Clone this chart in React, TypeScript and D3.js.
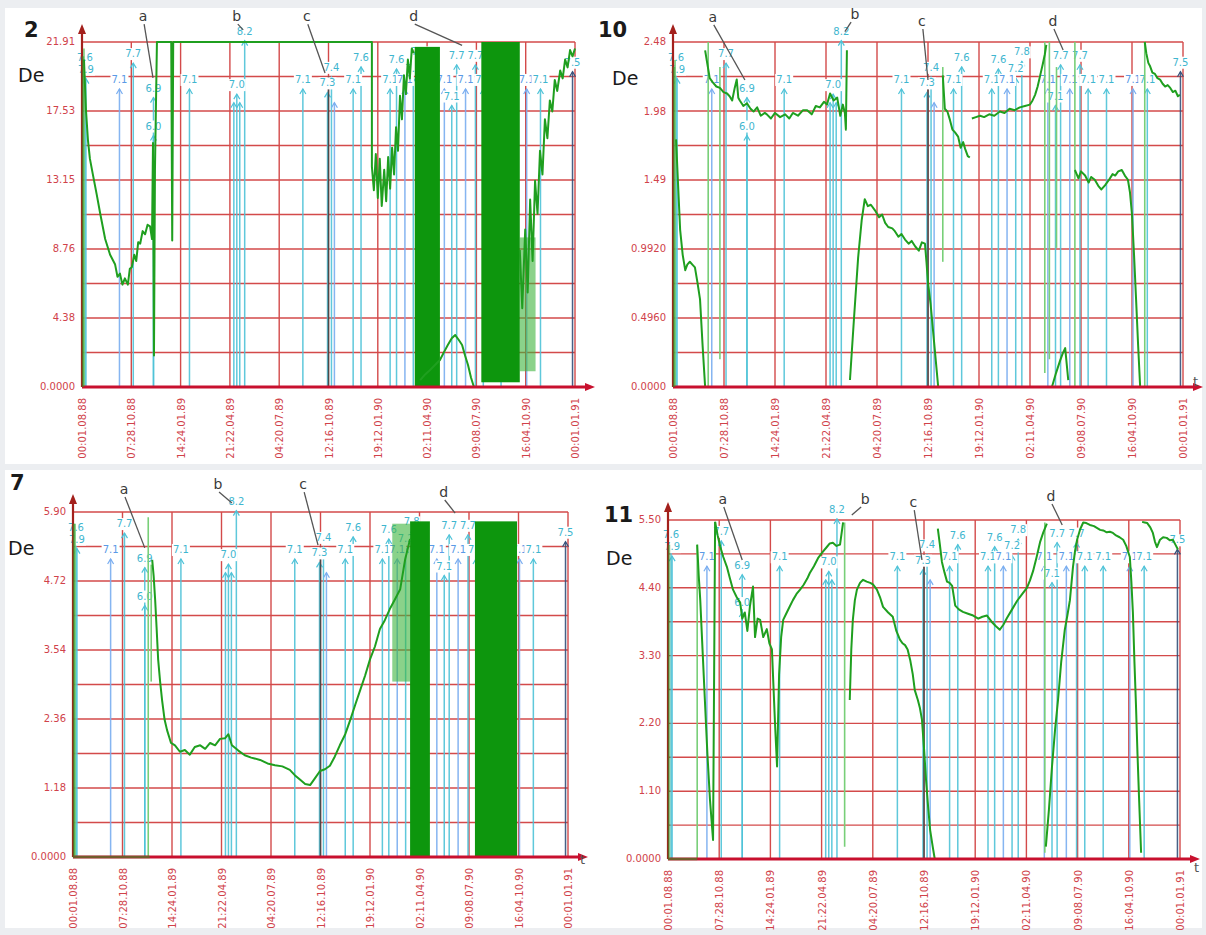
import React from "react";
import * as d3 from "d3";

// ---------------- shared axis / event data ----------------
const TIME_LABELS = [
  "00:01.08.88", "07:28.10.88", "14:24.01.89", "21:22.04.89", "04:20.07.89",
  "12:16.10.89", "19:12.01.90", "02:11.04.90", "09:08.07.90", "16:04.10.90", "00:01.01.91",
];

// events (earthquake markers): time (tick units), magnitude label, label level (fraction from top), kind
const EV_T = [0.06, 0.08, 0.76, 1.04, 1.45, 1.45, 2.18, 3.08, 3.14, 3.2, 3.3, 4.48, 4.98, 5.06, 5.12, 5.5, 5.66, 6.25, 6.38, 6.55, 6.72, 6.84, 7.35, 7.5, 7.6, 7.78, 7.98, 8.14, 8.5, 9.02, 9.3, 9.95];
const EV_MAG = ["7.6", "7.9", "7.1", "7.7", "6.9", "6.0", "7.1", "", "7.0", "", "8.2", "7.1", "7.3", "7.4", "", "7.1", "7.6", "7.1", "7.6", "7.1", "7.2", "7.8", "7.1", "7.1", "7.7", "7.1", "7.7", "7.1", "7.1", "7.1", "7.1", "7.5"];
const EV_LEVEL = [0.045, 0.08, 0.11, 0.035, 0.135, 0.245, 0.11, 0.15, 0.125, 0.15, -0.03, 0.11, 0.12, 0.075, 0.15, 0.11, 0.046, 0.11, 0.052, 0.11, 0.078, 0.03, 0.11, 0.158, 0.04, 0.11, 0.04, 0.11, 0.11, 0.11, 0.11, 0.06];
const EV_KIND = ["c", "c", "b", "c", "c", "c", "c", "c", "c", "c", "c", "c", "c", "c", "b", "c", "c", "c", "c", "b", "c", "c", "b", "c", "c", "b", "c", "c", "c", "b", "c", "d"];

// ---------------- panel "2" ----------------
const P2_TICKS = [0, 4.38, 8.76, 13.15, 17.53, 21.91];
const P2_LABELS = ["0.0000", "4.38", "8.76", "13.15", "17.53", "21.91"];
const P2_SEGS: [number, number][][] = [
  [[0.04, 20.8], [0.08, 17.6], [0.12, 15.7], [0.16, 14.5], [0.22, 13.5], [0.3, 12.2], [0.37, 11.0], [0.47, 9.4], [0.57, 8.4], [0.67, 7.8], [0.72, 7.0], [0.77, 7.2], [0.82, 6.5], [0.87, 6.9], [0.93, 6.5], [0.97, 7.5], [1.01, 7.6], [1.06, 8.4], [1.1, 8.0], [1.14, 9.2], [1.18, 9.1], [1.23, 9.9], [1.28, 9.7], [1.33, 10.3], [1.38, 10.2], [1.42, 9.4], [1.44, 15.5], [1.46, 2.0], [1.48, 13.8], [1.52, 21.91], [1.81, 21.91], [1.83, 9.3], [1.85, 21.91], [5.88, 21.91], [5.88, 14.0], [5.92, 12.5], [5.96, 14.8], [6.0, 12.0], [6.04, 14.5], [6.08, 11.5], [6.13, 13.8], [6.17, 11.8], [6.21, 14.6], [6.25, 12.6], [6.29, 15.2], [6.33, 13.5], [6.37, 16.5], [6.41, 15.0], [6.45, 18.5], [6.49, 17.0], [6.53, 19.8], [6.57, 18.6], [6.61, 20.8], [6.65, 19.6], [6.69, 21.5], [6.73, 21.2]],
  [[6.86, 0.44], [6.96, 0.8], [7.06, 1.08], [7.16, 1.4], [7.26, 1.71], [7.34, 2.2], [7.42, 2.67], [7.5, 3.1], [7.57, 3.3], [7.64, 3.0], [7.71, 2.67], [7.77, 2.0], [7.83, 1.4], [7.89, 0.6], [7.95, 0.0]],
  [[8.88, 8.7], [8.93, 5.0], [8.99, 10.0], [9.04, 6.0], [9.09, 11.9], [9.14, 8.0], [9.19, 13.1], [9.24, 11.0], [9.29, 15.0], [9.34, 13.5], [9.39, 17.0], [9.44, 15.8], [9.49, 18.2], [9.54, 17.5], [9.59, 19.5], [9.64, 18.8], [9.7, 20.1], [9.75, 19.6], [9.8, 20.8], [9.85, 20.3], [9.9, 21.4], [9.95, 21.0], [10.0, 21.5]],
];
const P2_BANDS = [[6.75, 7.26, 0, 21.6], [8.1, 8.88, 0.3, 21.91]];
const P2_LIGHT = [[8.88, 9.2, 1.0, 9.5]];
const P2_SPIKES = [[0.04, 21.5, 0]];
const P2_BASE: [number, number][][] = [[[0.02, 0], [0.02, 21.0]]];

// ---------------- panel "10" ----------------
const P10_TICKS = [0, 0.496, 0.992, 1.49, 1.98, 2.48];
const P10_LABELS = ["0.0000", "0.4960", "0.9920", "1.49", "1.98", "2.48"];
const P10_SEGS: [number, number][][] = [
  [[0.06, 1.78], [0.1, 1.45], [0.14, 1.13], [0.19, 0.95], [0.24, 0.84], [0.28, 0.88], [0.33, 0.9], [0.38, 0.88], [0.43, 0.86], [0.48, 0.75], [0.53, 0.63], [0.58, 0.3], [0.63, 0.0]],
  [[0.63, 2.42], [0.67, 2.33], [0.72, 2.22], [0.78, 2.19], [0.85, 2.16], [0.92, 2.15], [0.99, 2.12], [1.06, 2.11], [1.11, 2.09], [1.16, 2.06], [1.21, 2.15], [1.25, 2.21], [1.28, 2.08], [1.31, 2.06], [1.38, 2.02], [1.45, 2.04], [1.52, 2.0], [1.58, 1.98], [1.65, 2.01], [1.72, 1.95], [1.8, 1.97], [1.84, 1.96], [1.92, 1.93], [2.0, 1.97], [2.1, 1.94], [2.2, 1.96], [2.28, 1.93], [2.35, 1.97], [2.45, 1.95], [2.55, 1.99], [2.63, 1.99], [2.72, 1.96], [2.8, 2.02], [2.88, 2.01], [2.96, 2.05], [3.02, 2.03], [3.08, 2.11], [3.15, 2.06], [3.22, 2.08], [3.28, 1.95], [3.33, 2.03], [3.37, 1.97], [3.39, 1.85], [3.41, 2.42]],
  [[3.47, 0.05], [3.55, 0.5], [3.63, 0.93], [3.7, 1.2], [3.76, 1.35], [3.82, 1.3], [3.88, 1.31], [3.96, 1.27], [4.04, 1.22], [4.1, 1.24], [4.16, 1.18], [4.22, 1.15], [4.3, 1.14], [4.35, 1.12], [4.42, 1.08], [4.48, 1.1], [4.55, 1.06], [4.62, 1.03], [4.68, 1.05], [4.75, 1.01], [4.82, 0.98], [4.88, 1.04], [4.94, 1.03], [4.97, 0.9], [5.0, 0.75], [5.05, 0.6], [5.1, 0.4], [5.15, 0.2], [5.2, 0.0]],
  [[5.29, 2.24], [5.33, 2.0], [5.38, 1.98], [5.43, 1.92], [5.48, 1.85], [5.53, 1.83], [5.59, 1.8], [5.64, 1.72], [5.69, 1.76], [5.73, 1.71], [5.78, 1.66], [5.82, 1.65]],
  [[5.86, 1.93], [5.94, 1.94], [6.02, 1.95], [6.1, 1.94], [6.2, 1.96], [6.3, 1.95], [6.41, 1.98], [6.5, 1.97], [6.6, 2.0], [6.7, 1.99], [6.8, 2.01], [6.9, 2.02], [7.0, 2.03], [7.05, 2.06], [7.1, 2.1], [7.15, 2.16], [7.2, 2.24], [7.25, 2.32], [7.29, 2.39], [7.32, 2.46]],
  [[7.43, 0.0], [7.51, 0.1], [7.59, 0.19], [7.64, 0.24], [7.69, 0.28], [7.75, 0.05]],
  [[7.88, 1.56], [7.95, 1.5], [8.0, 1.55], [8.08, 1.52], [8.15, 1.47], [8.2, 1.51], [8.27, 1.49], [8.35, 1.44], [8.4, 1.42], [8.47, 1.45], [8.55, 1.49], [8.62, 1.53], [8.67, 1.52], [8.73, 1.55], [8.8, 1.56], [8.86, 1.52], [8.92, 1.49], [8.96, 1.4], [9.0, 1.24], [9.04, 0.95], [9.08, 0.63], [9.12, 0.3], [9.16, 0.0]],
  [[9.25, 2.48], [9.28, 2.4], [9.32, 2.33], [9.35, 2.31], [9.4, 2.26], [9.45, 2.25], [9.5, 2.22], [9.55, 2.21], [9.6, 2.18], [9.65, 2.16], [9.7, 2.17], [9.75, 2.15], [9.8, 2.12], [9.85, 2.13], [9.9, 2.09], [9.94, 2.1]],
];
const P10_BANDS: number[][] = [];
const P10_LIGHT: number[][] = [];
const P10_SPIKES = [[0.04, 2.35, 0], [0.69, 2.48, 0], [0.92, 2.3, 0.2], [5.29, 2.3, 0.9], [7.29, 2.48, 0.1], [7.38, 2.48, 0.2], [7.52, 2.3, 1.0], [7.88, 2.48, 0], [9.25, 2.48, 0]];
const P10_BASE: [number, number][][] = [[[0.02, 0], [0.02, 2.3]]];

// ---------------- panel "7" ----------------
const P7_TICKS = [0, 1.18, 2.36, 3.54, 4.72, 5.9];
const P7_LABELS = ["0.0000", "1.18", "2.36", "3.54", "4.72", "5.90"];
const P7_SEGS: [number, number][][] = [
  [[1.6, 5.08], [1.63, 4.8], [1.66, 4.39], [1.69, 3.9], [1.72, 3.38], [1.76, 3.0], [1.8, 2.68], [1.85, 2.35], [1.9, 2.17], [1.98, 1.95], [2.06, 1.91], [2.16, 1.8], [2.26, 1.83], [2.36, 1.75], [2.46, 1.88], [2.57, 1.91], [2.67, 1.85], [2.77, 1.95], [2.87, 1.91], [2.97, 2.02], [3.07, 2.03], [3.14, 2.1], [3.21, 1.91], [3.34, 1.82], [3.47, 1.74], [3.6, 1.7], [3.78, 1.66], [3.93, 1.6], [4.08, 1.57], [4.23, 1.55], [4.38, 1.49], [4.48, 1.4], [4.59, 1.32], [4.69, 1.25], [4.79, 1.23], [4.89, 1.35], [4.99, 1.47], [5.09, 1.5], [5.19, 1.56], [5.29, 1.72], [5.39, 1.91], [5.5, 2.1], [5.6, 2.34], [5.7, 2.6], [5.8, 2.85], [5.9, 3.1], [6.0, 3.38], [6.1, 3.6], [6.2, 3.9], [6.3, 4.05], [6.4, 4.24], [6.5, 4.4], [6.61, 4.58], [6.71, 5.09], [6.81, 5.44]],
];
const P7_BANDS = [[6.81, 7.21, 0, 5.74], [8.12, 8.97, 0, 5.74]];
const P7_LIGHT = [[6.45, 6.81, 3.0, 5.7]];
const P7_SPIKES = [[0.04, 5.7, 0], [1.52, 5.81, 0], [1.58, 5.0, 3.0]];
const P7_BASE: [number, number][][] = [[[0.02, 5.7], [0.02, 0], [1.55, 0]]];

// ---------------- panel "11" ----------------
const P11_TICKS = [0, 1.1, 2.2, 3.3, 4.4, 5.5];
const P11_LABELS = ["0.0000", "1.10", "2.20", "3.30", "4.40", "5.50"];
const P11_SEGS: [number, number][][] = [
  [[0.57, 5.1], [0.6, 4.6], [0.63, 4.2], [0.68, 3.3], [0.72, 2.58], [0.77, 1.7], [0.82, 0.96], [0.88, 0.31], [0.92, 5.47]],
  [[0.92, 5.47], [0.97, 5.25], [1.02, 5.07], [1.08, 4.9], [1.15, 4.74], [1.21, 4.55], [1.27, 4.37], [1.34, 4.25], [1.41, 4.16], [1.45, 3.9], [1.5, 4.0], [1.55, 3.7], [1.6, 4.1], [1.66, 4.42], [1.7, 3.6], [1.75, 3.9], [1.8, 3.88], [1.86, 3.6], [1.93, 3.73], [1.98, 3.5], [2.03, 3.4], [2.06, 2.8], [2.09, 2.2], [2.13, 1.5], [2.17, 3.0], [2.21, 3.6], [2.25, 3.88], [2.32, 4.0], [2.38, 4.1], [2.44, 4.2], [2.51, 4.3], [2.58, 4.37], [2.65, 4.45], [2.72, 4.55], [2.77, 4.64], [2.85, 4.75], [2.93, 4.88], [3.01, 4.97], [3.11, 5.07], [3.16, 5.12], [3.22, 5.13], [3.29, 5.08], [3.36, 5.1], [3.42, 5.46]],
  [[3.55, 2.58], [3.58, 3.4], [3.61, 3.88], [3.65, 4.2], [3.69, 4.37], [3.75, 4.48], [3.81, 4.53], [3.88, 4.5], [3.95, 4.48], [4.01, 4.45], [4.08, 4.37], [4.14, 4.25], [4.2, 4.09], [4.3, 4.0], [4.39, 3.93], [4.46, 3.7], [4.53, 3.56], [4.58, 3.5], [4.63, 3.47], [4.68, 3.4], [4.73, 3.23], [4.78, 3.0], [4.82, 2.74], [4.88, 2.58], [4.92, 2.45], [4.96, 2.26], [5.0, 1.8], [5.04, 1.28], [5.08, 0.85], [5.12, 0.47], [5.17, 0.2], [5.21, 0.0]],
  [[5.27, 5.36], [5.31, 5.1], [5.35, 4.82], [5.4, 4.65], [5.45, 4.5], [5.5, 4.48], [5.55, 4.43], [5.61, 4.11], [5.68, 4.05], [5.76, 4.01], [5.86, 3.98], [5.96, 3.95], [6.06, 3.9], [6.14, 3.93], [6.23, 3.95], [6.32, 3.85], [6.4, 3.78], [6.48, 3.72], [6.55, 3.8], [6.62, 3.91], [6.72, 4.05], [6.82, 4.19], [6.92, 4.3], [7.01, 4.4], [7.07, 4.52], [7.13, 4.67], [7.2, 4.9], [7.27, 5.15], [7.33, 5.3], [7.4, 5.44]],
  [[7.38, 0.2], [7.44, 0.8], [7.5, 1.5], [7.56, 2.1], [7.62, 2.6], [7.68, 3.2], [7.75, 3.72], [7.8, 3.95], [7.85, 4.2], [7.91, 4.74], [7.95, 5.0], [7.99, 5.18], [8.05, 5.35], [8.11, 5.46], [8.17, 5.45], [8.24, 5.42], [8.32, 5.4], [8.4, 5.36], [8.44, 5.34], [8.5, 5.33], [8.57, 5.3], [8.63, 5.31], [8.69, 5.29], [8.75, 5.25], [8.82, 5.22], [8.89, 5.18], [8.95, 5.08], [9.02, 4.9], [9.05, 4.5], [9.08, 4.0], [9.11, 3.2], [9.14, 2.5], [9.17, 1.7], [9.2, 1.0], [9.24, 0.1]],
  [[9.26, 5.47], [9.31, 5.46], [9.36, 5.45], [9.42, 5.38], [9.47, 5.29], [9.51, 5.15], [9.55, 5.06], [9.58, 5.12], [9.61, 5.18], [9.67, 5.22], [9.74, 5.21], [9.8, 5.17], [9.86, 5.18], [9.91, 5.1], [9.96, 5.02]],
];
const P11_BANDS: number[][] = [];
const P11_LIGHT: number[][] = [];
const P11_SPIKES = [[0.57, 5.1, 0], [3.45, 5.46, 0.2], [7.36, 5.46, 0.1]];
const P11_BASE: [number, number][][] = [[[0.02, 5.1], [0.02, 0], [0.57, 0]]];

// letters: [char, textT, textFrac, targetT, targetFrac]
const P2_LETTERS: [string, number, number, number, number][] = [["a", 1.24, -0.072, 1.44, 0.104], ["b", 3.14, -0.072, 3.27, -0.035], ["c", 4.56, -0.072, 4.93, 0.09], ["d", 6.73, -0.072, 7.71, 0.01]];
const P10_LETTERS: [string, number, number, number, number][] = [["a", 0.78, -0.07, 1.41, 0.11], ["b", 3.57, -0.078, 3.37, -0.03], ["c", 4.88, -0.058, 5.0, 0.11], ["d", 7.45, -0.058, 7.65, 0.023]];
const P7_LETTERS: [string, number, number, number, number][] = [["a", 1.03, -0.064, 1.45, 0.104], ["b", 2.93, -0.078, 3.21, -0.026], ["c", 4.65, -0.078, 4.95, 0.096], ["d", 7.49, -0.055, 7.72, 0.003]];
const P11_LETTERS: [string, number, number, number, number][] = [["a", 1.07, -0.059, 1.45, 0.118], ["b", 3.85, -0.059, 3.59, -0.015], ["c", 4.79, -0.05, 4.96, 0.118], ["d", 7.48, -0.068, 7.7, 0.015]];

// ---------------- layout ----------------
const PANELS = [
  { id: "2", left: 82, right: 575, top: 42, bottom: 387, max: 21.91, ticks: P2_TICKS, labels: P2_LABELS, segs: P2_SEGS, bands: P2_BANDS, light: P2_LIGHT, spikes: P2_SPIKES, base: P2_BASE, letters: P2_LETTERS, title: [24, 37], de: [18, 82], tLabel: null as null | number[] },
  { id: "10", left: 673, right: 1183, top: 42, bottom: 387, max: 2.48, ticks: P10_TICKS, labels: P10_LABELS, segs: P10_SEGS, bands: P10_BANDS, light: P10_LIGHT, spikes: P10_SPIKES, base: P10_BASE, letters: P10_LETTERS, title: [598, 37], de: [612, 85], tLabel: [1193, 386] },
  { id: "7", left: 73, right: 568, top: 512, bottom: 857, max: 5.9, ticks: P7_TICKS, labels: P7_LABELS, segs: P7_SEGS, bands: P7_BANDS, light: P7_LIGHT, spikes: P7_SPIKES, base: P7_BASE, letters: P7_LETTERS, title: [10, 490], de: [8, 555], tLabel: [580, 864] },
  { id: "11", left: 668, right: 1180, top: 520, bottom: 859, max: 5.5, ticks: P11_TICKS, labels: P11_LABELS, segs: P11_SEGS, bands: P11_BANDS, light: P11_LIGHT, spikes: P11_SPIKES, base: P11_BASE, letters: P11_LETTERS, title: [604, 522], de: [606, 565], tLabel: [1194, 872] },
];

const FONT = "'DejaVu Sans', Verdana, sans-serif";
const GRID = "#d34a4a";
const AXIS = "#c8102e";
const GREEN = "#1f9f1f";
const CYAN = "#4ec3d8";
const BLUE = "#79adf0";

function Panel({ p }: { p: (typeof PANELS)[number] }) {
  const x = d3.scaleLinear().domain([0, 10]).range([p.left, p.right]);
  const y = d3.scaleLinear().domain([0, p.max]).range([p.bottom, p.top]);
  const h = p.bottom - p.top;
  const fy = (f: number) => p.top + f * h;
  const line = d3.line<[number, number]>().x((d) => x(d[0])).y((d) => y(d[1]));
  const half = d3.range(1, 11).map((i) => (i * p.max) / 10);
  const vt = d3.range(1, 11);

  return (
    <g>
      {/* grid */}
      {half.map((v, i) => (
        <line key={"h" + i} x1={p.left} x2={p.right} y1={y(v)} y2={y(v)} stroke={GRID} strokeWidth={1.4} />
      ))}
      {vt.map((t) => (
        <line key={"v" + t} x1={x(t)} x2={x(t)} y1={p.top} y2={p.bottom} stroke={GRID} strokeWidth={1.4} />
      ))}

      {/* y tick labels */}
      {p.ticks.map((v, i) => (
        <text key={"yl" + i} x={p.left - 7} y={y(v)} textAnchor="end" dominantBaseline="middle" fontSize={10} fill="#d0424a" fontFamily={FONT}>
          {p.labels[i]}
        </text>
      ))}

      {/* x tick labels */}
      {TIME_LABELS.map((s, i) => (
        <text key={"xl" + i} transform={`translate(${x(i) + 1},${p.bottom + 11}) rotate(-90)`} textAnchor="end" dominantBaseline="middle" fontSize={10} fill="#d0424a" fontFamily={FONT}>
          {s}
        </text>
      ))}

      {/* event markers */}
      {EV_T.map((t, i) => {
        const xx = x(t);
        const ly = fy(EV_LEVEL[i]);
        const tip = ly + 9;
        const col = EV_KIND[i] === "b" ? BLUE : EV_KIND[i] === "d" ? "#34507a" : CYAN;
        return (
          <g key={"ev" + i}>
            <line x1={xx} x2={xx} y1={tip} y2={p.bottom} stroke={col} strokeWidth={1.5} opacity={0.9} />
            <path d={`M${xx - 3},${tip + 5}L${xx},${tip}L${xx + 3},${tip + 5}`} fill="none" stroke={col} strokeWidth={1.2} />
          </g>
        );
      })}
      {/* c line */}
      <line x1={x(5.0)} x2={x(5.0)} y1={fy(0.1)} y2={p.bottom} stroke="#4a4a4a" strokeWidth={1.5} />
      {EV_T.map((t, i) =>
        EV_MAG[i] ? (
          <g key={"evl" + i}>
            <rect x={x(t) - 9} y={fy(EV_LEVEL[i]) - 6} width={18} height={12} fill="#fff" />
            <text x={x(t)} y={fy(EV_LEVEL[i])} textAnchor="middle" dominantBaseline="middle" fontSize={10} fill={EV_KIND[i] === "b" ? "#5a9ae6" : "#3fb6cf"} fontFamily={FONT}>
              {EV_MAG[i]}
            </text>
          </g>
        ) : null
      )}

      {/* data */}
      {p.spikes.map((s, i) => (
        <line key={"sp" + i} x1={x(s[0])} x2={x(s[0])} y1={y(s[1])} y2={y(s[2])} stroke="#78cf78" strokeWidth={1.6} />
      ))}
      {p.light.map((b, i) => (
        <rect key={"lb" + i} x={x(b[0])} width={x(b[1]) - x(b[0])} y={y(b[3])} height={y(b[2]) - y(b[3])} fill="#3cb43c" opacity={0.6} />
      ))}
      {p.bands.map((b, i) => (
        <rect key={"b" + i} x={x(b[0])} width={x(b[1]) - x(b[0])} y={y(b[3])} height={y(b[2]) - y(b[3])} fill="#0d960d" />
      ))}
      {p.segs.map((s, i) => (
        <path key={"s" + i} d={line(s) || ""} fill="none" stroke={GREEN} strokeWidth={2} strokeLinejoin="round" />
      ))}

      {/* axes */}
      <line x1={p.left} x2={p.right + 14} y1={p.bottom} y2={p.bottom} stroke={AXIS} strokeWidth={3} />
      <path d={`M${p.right + 20},${p.bottom}L${p.right + 10},${p.bottom - 4}L${p.right + 10},${p.bottom + 4}Z`} fill={AXIS} />
      <line x1={p.left} x2={p.left} y1={p.bottom} y2={p.top - 10} stroke="#a3201c" strokeWidth={2.2} />
      <path d={`M${p.left},${p.top - 18}L${p.left - 4},${p.top - 8}L${p.left + 4},${p.top - 8}Z`} fill="#a3201c" />
      {p.base.map((s, i) => (
        <path key={"bs" + i} d={line(s) || ""} fill="none" stroke="#2a9a2a" strokeWidth={2.4} opacity={0.55} />
      ))}

      {/* letters */}
      {p.letters.map((l, i) => {
        const tx = x(l[1]);
        const ty = fy(l[2]);
        return (
          <g key={"lt" + i}>
            <text x={tx} y={ty} textAnchor="middle" dominantBaseline="middle" fontSize={14} fill="#3a3a3a" fontFamily={FONT}>
              {l[0]}
            </text>
            <line x1={tx + (l[3] < l[1] ? -4 : 1)} y1={ty + 7} x2={x(l[3])} y2={fy(l[4])} stroke="#555" strokeWidth={1.3} />
          </g>
        );
      })}

      {/* titles */}
      <text x={p.title[0]} y={p.title[1]} fontSize={21} fontWeight="bold" fill="#1a1a1a" fontFamily={FONT}>
        {p.id}
      </text>
      <text x={p.de[0]} y={p.de[1]} fontSize={19} fill="#1a1a1a" fontFamily={FONT}>
        De
      </text>
      {p.tLabel ? (
        <text x={p.tLabel[0]} y={p.tLabel[1]} fontSize={13} fill="#555" fontFamily={FONT}>
          t
        </text>
      ) : null}
    </g>
  );
}

export default function App() {
  return (
    <svg width={1206} height={935} style={{ position: "absolute", left: 0, top: 0, background: "#eceef1" }}>
      <rect x={5} y={8} width={1197} height={456} fill="#fff" />
      <rect x={5} y={470} width={1197} height={458} fill="#fff" />
      {PANELS.map((p) => (
        <Panel key={p.id} p={p} />
      ))}
    </svg>
  );
}
